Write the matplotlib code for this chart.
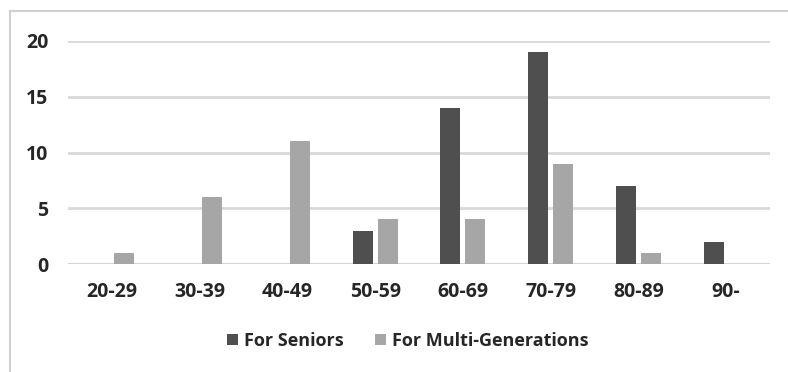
import matplotlib

matplotlib.use("Agg")
import matplotlib.pyplot as plt
import numpy as np
from matplotlib.patches import Rectangle

age_groups = ["20-29", "30-39", "40-49", "50-59", "60-69", "70-79", "80-89", "90-"]
for_seniors = [0, 0, 0, 3, 14, 19, 7, 2]
for_multi_generations = [1, 6, 11, 4, 4, 9, 1, 0]
y_ticks = [0, 5, 10, 15, 20]

plt.rcParams["font.family"] = ["Open Sans", "DejaVu Sans"]

W, H = 788, 372
fig = plt.figure(figsize=(W / 100, H / 100), dpi=100)
fig.patch.set_facecolor("#ffffff")

# outer chart frame (only top and left edges fall inside the image)
fig.add_artist(
    Rectangle((10 / W, -0.1), 1.2, (H - 11) / H + 0.1,
              transform=fig.transFigure, facecolor="none",
              edgecolor="#d0d0d0", linewidth=1.5)
)

ax = fig.add_axes([68 / W, 1 - 264 / H, (770 - 68) / W, (264 - 41) / H])
x = np.arange(len(age_groups))
width = 0.228
offset = 0.142
ax.bar(x - offset, for_seniors, width, color="#4f4f4f", label="For Seniors", zorder=3)
ax.bar(x + offset, for_multi_generations, width, color="#a6a6a6",
       label="For Multi-Generations", zorder=3)

ax.set_xlim(-0.5, len(age_groups) - 0.5)
ax.set_ylim(0, 20)
ax.set_yticks(y_ticks)
ax.set_xticks(x)
ax.set_xticklabels(age_groups)
for spine in ax.spines.values():
    spine.set_visible(False)
ax.grid(True, axis="y", color="#d9d9d9", linewidth=2.0, zorder=0)
ax.axhline(0, color="#d4d4d4", linewidth=2.2, zorder=2)
ax.tick_params(axis="both", length=0, labelsize=14, colors="#262626")
ax.tick_params(axis="x", pad=13)
ax.tick_params(axis="y", pad=14)
for lbl in ax.get_xticklabels() + ax.get_yticklabels():
    lbl.set_fontweight("bold")

ax.legend(
    loc="center",
    bbox_to_anchor=(0.484, -0.345),
    ncol=2,
    frameon=False,
    prop={"size": 13, "weight": "bold"},
    handlelength=0.62,
    handleheight=0.62,
    handletextpad=0.33,
    columnspacing=1.75,
    labelcolor="#262626",
)

fig.savefig("out.png", dpi=100)
